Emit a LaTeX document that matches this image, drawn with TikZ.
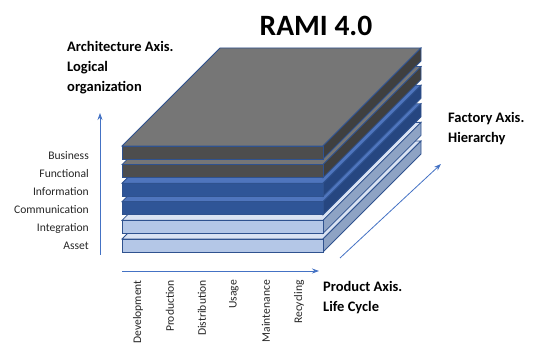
\documentclass[tikz,border=0pt]{standalone}
\usepackage{fontspec}
\setmainfont{Carlito}
\usetikzlibrary{arrows.meta}
\definecolor{edgeblue}{HTML}{2F528F}
\definecolor{axisblue}{HTML}{4472C4}
\definecolor{greyTop}{HTML}{767676}
\definecolor{greyFront}{HTML}{4D4D4D}
\definecolor{greySide}{HTML}{3F3F3F}
\definecolor{blueTop}{HTML}{4F75BD}
\definecolor{blueFront}{HTML}{2F5597}
\definecolor{blueSide}{HTML}{264680}
\definecolor{lightTop}{HTML}{DAE3F3}
\definecolor{lightFront}{HTML}{B4C7E7}
\definecolor{lightSide}{HTML}{8EA3C4}
\newcommand{\rlayer}[4]{%
  % #1 bottom y, #2 top colour, #3 front colour, #4 side colour
  \pgfmathsetmacro{\yb}{#1}\pgfmathsetmacro{\yt}{#1-13}%
  \pgfmathsetmacro{\ybb}{#1-98}\pgfmathsetmacro{\ytb}{#1-111}%
  \filldraw[layeredge,fill=#2] (122,\yt) -- (323,\yt) -- (421,\ytb) -- (220,\ytb) -- cycle;
  \filldraw[layeredge,fill=#4] (323,\yt) -- (421,\ytb) -- (421,\ybb) -- (323,\yb) -- cycle;
  \filldraw[layeredge,fill=#3] (122,\yt) rectangle (323,\yb);
}
\begin{document}
\begin{tikzpicture}[x=1pt,y=-1pt,
  layeredge/.style={draw=edgeblue,line width=0.8pt,line join=miter},
  axisarrow/.style={draw=axisblue,line width=0.8pt,-{Stealth[length=7pt,width=5pt]}},
  lab/.style={font=\fontsize{11.6}{13}\selectfont,text=black!85,inner sep=0pt},
  axtitle/.style={font=\fontsize{14.5}{20}\selectfont\bfseries,align=left,inner sep=0pt,anchor=west}]
\useasboundingbox (0,0) rectangle (550,355);
% layers, bottom to top
\rlayer{252}{lightTop}{lightFront}{lightSide}
\rlayer{233.4}{lightTop}{lightFront}{lightSide}
\rlayer{214.8}{blueTop}{blueFront}{blueSide}
\rlayer{196.2}{blueTop}{blueFront}{blueSide}
\rlayer{177.6}{greyTop}{greyFront}{greySide}
\rlayer{159}{greyTop}{greyFront}{greySide}
% axes
\coordinate (v0) at (100,255); \coordinate (v1) at (100,113);
\coordinate (h0) at (122,271); \coordinate (h1) at (319,271);
\coordinate (d0) at (340,258); \coordinate (d1) at (441,164);
\draw[axisarrow] (v0) -- (v1);
\draw[axisarrow] (h0) -- (h1);
\draw[axisarrow] (d0) -- (d1);
% left labels
\node[lab,anchor=east] (business) at (89,156) {Business};
\node[lab,anchor=east] (functional) at (89,174) {Functional};
\node[lab,anchor=east] (information) at (89,192) {Information};
\node[lab,anchor=east] (communication) at (89,210) {Communication};
\node[lab,anchor=east] (integration) at (89,228) {Integration};
\node[lab,anchor=east] (asset) at (89,246) {Asset};
% bottom labels
\node[lab,rotate=90,anchor=east] (development) at (138,280) {Development};
\node[lab,rotate=90,anchor=east] (production) at (170,280) {Production};
\node[lab,rotate=90,anchor=east] (distribution) at (202,280) {Distribution};
\node[lab,rotate=90,anchor=east] (usage) at (234,280) {Usage};
\node[lab,rotate=90,anchor=east] (maintenance) at (266,280) {Maintenance};
\node[lab,rotate=90,anchor=east] (recycling) at (299,280) {Recycling};
% titles
\node[font=\fontsize{29.5}{32}\selectfont\bfseries,inner sep=0pt] (title) at (316,26) {RAMI 4.0};
\node[axtitle] (archaxis) at (67,68) {Architecture Axis.\\Logical\\organization};
\node[axtitle] (factaxis) at (448,129) {Factory Axis.\\Hierarchy};
\node[axtitle] (prodaxis) at (323,298) {Product Axis.\\Life Cycle};
\end{tikzpicture}
\end{document}
